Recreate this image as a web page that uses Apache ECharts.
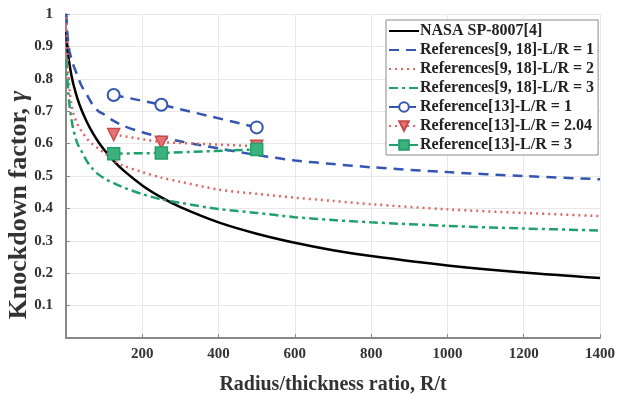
<!DOCTYPE html>
<html>
<head>
<meta charset="utf-8">
<script src="https://cdn.jsdelivr.net/npm/echarts@6/dist/echarts.min.js"></script>
<style>
  html, body { margin: 0; padding: 0; background: #fff; }
  #chart { width: 632px; height: 394px; }
</style>
</head>
<body>
<div id="chart"></div>
<script>
// radius/thickness ratios where the curves were read
const rt = [1, 3, 6, 10, 15, 20, 30, 40, 55, 70, 85, 100, 125, 150, 200, 250, 300, 400, 500, 600, 700, 800, 1000, 1200, 1400];
const nasa = [0.945, 0.908, 0.872, 0.839, 0.806, 0.780, 0.739, 0.706, 0.666, 0.633, 0.605, 0.581, 0.547, 0.518, 0.471, 0.434, 0.404, 0.357, 0.322, 0.294, 0.271, 0.253, 0.224, 0.202, 0.185];
const refLR1 = [1.0, 0.95, 0.91, 0.88, 0.86, 0.84, 0.81, 0.78, 0.75, 0.72, 0.70, 0.69, 0.67, 0.655, 0.635, 0.62, 0.607, 0.585, 0.565, 0.548, 0.537, 0.527, 0.512, 0.500, 0.490];
const refLR2 = [0.99, 0.90, 0.82, 0.76, 0.715, 0.69, 0.66, 0.64, 0.615, 0.598, 0.585, 0.572, 0.548, 0.532, 0.512, 0.495, 0.482, 0.458, 0.445, 0.433, 0.423, 0.413, 0.397, 0.386, 0.376];
const refLR3 = [0.86, 0.81, 0.76, 0.71, 0.67, 0.64, 0.60, 0.578, 0.545, 0.522, 0.505, 0.493, 0.478, 0.465, 0.444, 0.428, 0.417, 0.398, 0.386, 0.373, 0.364, 0.357, 0.346, 0.338, 0.332];

// Reference[13] test points
const testRt = [125, 250, 500];
const test1 = [0.75, 0.72, 0.65];
const test204 = [0.628, 0.604, 0.592];
const test3 = [0.569, 0.571, 0.582];

const names = [
  'NASA SP-8007[4]',
  'References[9, 18]-L/R = 1',
  'References[9, 18]-L/R = 2',
  'References[9, 18]-L/R = 3',
  'Reference[13]-L/R = 1',
  'Reference[13]-L/R = 2.04',
  'Reference[13]-L/R = 3'
];

const BLUE = '#3556b0';
const RED = '#e06666';
const GREEN = '#22a06b';
const FONT = '"Liberation Serif", "Times New Roman", serif';

const zip = (xs, ys) => xs.map((x, i) => [x, ys[i]]);

const curve = (name, ys, color, type) => ({
  name,
  type: 'line',
  data: zip(rt, ys),
  smooth: 0.3,
  symbol: 'none',
  lineStyle: { color, width: 2.5, type },
  itemStyle: { color },
  z: 2
});

const points = (name, ys, color, type, symbol, extra) => Object.assign({
  name,
  type: 'line',
  data: zip(testRt, ys),
  symbol,
  symbolSize: 12,
  lineStyle: { color, width: 2.5, type },
  itemStyle: { color, borderColor: color, borderWidth: 2 },
  z: 3
}, extra);

const chart = echarts.init(document.getElementById('chart'));

chart.setOption({
  animation: false,
  textStyle: { fontFamily: FONT },
  grid: { left: 66, right: 32, top: 14, bottom: 56, outerBoundsMode: 'none' },
  legend: {
    orient: 'vertical',
    left: 386,
    top: 20,
    itemWidth: 30,
    itemHeight: 12,
    itemGap: 3,
    padding: [3, 4, 2, 2],
    backgroundColor: '#fff',
    borderColor: '#8a8a8a',
    borderWidth: 1,
    textStyle: { fontFamily: FONT, fontWeight: 'bold', fontSize: 16, color: '#222', padding: [0, 0, 0, -4] },
    // the plain curves show only their line in the legend
    data: names.map((n, i) => i < 4 ? { name: n, itemStyle: { opacity: 0 } } : n)
  },
  xAxis: {
    type: 'value',
    min: 0,
    max: 1400,
    interval: 200,
    name: 'Radius/thickness ratio, R/t',
    nameLocation: 'middle',
    nameGap: 37,
    nameMoveOverlap: false,
    nameTextStyle: { fontFamily: FONT, fontWeight: 'bold', fontSize: 20, color: '#333' },
    axisLine: { lineStyle: { color: '#888', width: 2 } },
    axisTick: { inside: true, length: 4, lineStyle: { color: '#888' } },
    axisLabel: {
      showMinLabel: false,
      formatter: v => String(v),
      fontFamily: FONT, fontWeight: 'bold', fontSize: 15, color: '#333', margin: 9
    },
    splitLine: { show: true, lineStyle: { color: '#e8e8e8' } }
  },
  yAxis: {
    type: 'value',
    min: 0,
    max: 1,
    interval: 0.1,
    name: 'Knockdown factor, {g|γ}',
    nameLocation: 'middle',
    nameGap: 34,
    nameMoveOverlap: false,
    nameTextStyle: {
      fontFamily: FONT, fontWeight: 'bold', fontSize: 26, color: '#333',
      padding: [0, 58, 0, 0],
      rich: { g: { fontFamily: FONT, fontStyle: 'italic', fontSize: 26, color: '#333' } }
    },
    axisLine: { show: true, lineStyle: { color: '#888', width: 2 } },
    axisTick: { show: true, inside: true, length: 4, lineStyle: { color: '#888' } },
    axisLabel: {
      showMinLabel: false,
      formatter: v => String(+v.toFixed(1)),
      fontFamily: FONT, fontWeight: 'bold', fontSize: 15, color: '#333', margin: 13
    },
    splitLine: { show: true, lineStyle: { color: '#e8e8e8' } }
  },
  series: [
    curve(names[0], nasa, '#000', 'solid'),
    curve(names[1], refLR1, BLUE, [10, 7]),
    curve(names[2], refLR2, RED, [2, 4]),
    curve(names[3], refLR3, GREEN, [9, 4, 3, 4]),
    points(names[4], test1, BLUE, [10, 7], 'emptyCircle', {}),
    points(names[5], test204, RED, [2, 4], 'triangle', {
      symbolRotate: 180,
      itemStyle: { color: '#e57373', borderColor: '#c84b4b', borderWidth: 1.5 }
    }),
    points(names[6], test3, GREEN, [9, 4, 3, 4], 'rect', {
      itemStyle: { color: '#3cb37f', borderColor: GREEN, borderWidth: 1.5 }
    })
  ]
});
</script>
</body>
</html>
